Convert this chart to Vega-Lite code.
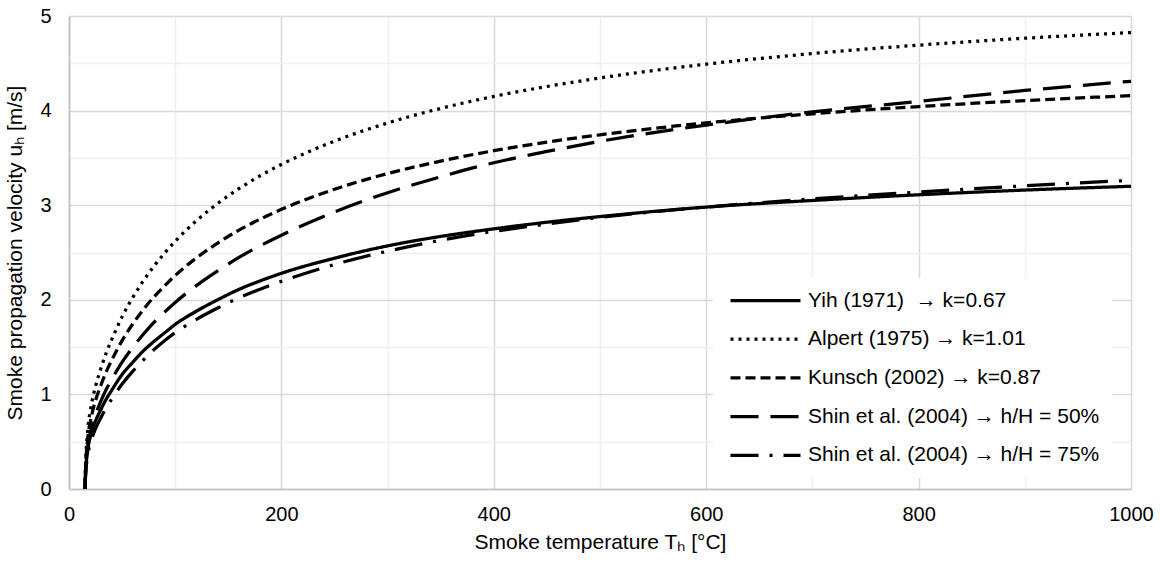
{
  "$schema": "https://vega.github.io/schema/vega-lite/v6.json",
  "width": 1062,
  "height": 473,
  "autosize": {"type": "none"},
  "padding": {"left": 69, "top": 16, "right": 29, "bottom": 73},
  "background": "white",
  "datasets": {
    "names": [
      {"key": "Yih", "label": "Yih (1971) \u00a0→ k=0.67"},
      {"key": "Alpert", "label": "Alpert (1975) → k=1.01"},
      {"key": "Kunsch", "label": "Kunsch (2002) → k=0.87"},
      {"key": "Shin50", "label": "Shin et al. (2004) → h/H = 50%"},
      {"key": "Shin75", "label": "Shin et al. (2004) → h/H = 75%"}
    ]
  },
  "data": {
    "values": [
      {"T": 15, "Yih": 0, "Alpert": 0, "Kunsch": 0, "Shin50": 0, "Shin75": 0},
      {"T": 16, "Yih": 0.25, "Alpert": 0.373, "Kunsch": 0.321, "Shin50": 0.265, "Shin75": 0.214},
      {"T": 17, "Yih": 0.35, "Alpert": 0.532, "Kunsch": 0.459, "Shin50": 0.378, "Shin75": 0.306},
      {"T": 18, "Yih": 0.44, "Alpert": 0.669, "Kunsch": 0.577, "Shin50": 0.478, "Shin75": 0.386},
      {"T": 20, "Yih": 0.55, "Alpert": 0.823, "Kunsch": 0.709, "Shin50": 0.591, "Shin75": 0.477},
      {"T": 22, "Yih": 0.63, "Alpert": 0.944, "Kunsch": 0.813, "Shin50": 0.681, "Shin75": 0.55},
      {"T": 25, "Yih": 0.72, "Alpert": 1.086, "Kunsch": 0.936, "Shin50": 0.788, "Shin75": 0.638},
      {"T": 30, "Yih": 0.84, "Alpert": 1.273, "Kunsch": 1.097, "Shin50": 0.928, "Shin75": 0.754},
      {"T": 35, "Yih": 0.95, "Alpert": 1.437, "Kunsch": 1.238, "Shin50": 1.051, "Shin75": 0.859},
      {"T": 40, "Yih": 1.04, "Alpert": 1.574, "Kunsch": 1.357, "Shin50": 1.154, "Shin75": 0.947},
      {"T": 50, "Yih": 1.21, "Alpert": 1.821, "Kunsch": 1.569, "Shin50": 1.341, "Shin75": 1.109},
      {"T": 60, "Yih": 1.34, "Alpert": 2.024, "Kunsch": 1.744, "Shin50": 1.498, "Shin75": 1.244},
      {"T": 70, "Yih": 1.46, "Alpert": 2.2, "Kunsch": 1.896, "Shin50": 1.636, "Shin75": 1.363},
      {"T": 80, "Yih": 1.56, "Alpert": 2.356, "Kunsch": 2.03, "Shin50": 1.761, "Shin75": 1.473},
      {"T": 90, "Yih": 1.65, "Alpert": 2.493, "Kunsch": 2.148, "Shin50": 1.87, "Shin75": 1.568},
      {"T": 100, "Yih": 1.74, "Alpert": 2.619, "Kunsch": 2.257, "Shin50": 1.972, "Shin75": 1.652},
      {"T": 120, "Yih": 1.88, "Alpert": 2.836, "Kunsch": 2.443, "Shin50": 2.15, "Shin75": 1.794},
      {"T": 140, "Yih": 2.0, "Alpert": 3.018, "Kunsch": 2.6, "Shin50": 2.305, "Shin75": 1.914},
      {"T": 160, "Yih": 2.11, "Alpert": 3.175, "Kunsch": 2.736, "Shin50": 2.448, "Shin75": 2.02},
      {"T": 180, "Yih": 2.2, "Alpert": 3.311, "Kunsch": 2.853, "Shin50": 2.571, "Shin75": 2.112},
      {"T": 200, "Yih": 2.28, "Alpert": 3.431, "Kunsch": 2.956, "Shin50": 2.683, "Shin75": 2.195},
      {"T": 250, "Yih": 2.44, "Alpert": 3.677, "Kunsch": 3.169, "Shin50": 2.929, "Shin75": 2.373},
      {"T": 300, "Yih": 2.57, "Alpert": 3.869, "Kunsch": 3.334, "Shin50": 3.132, "Shin75": 2.514},
      {"T": 350, "Yih": 2.67, "Alpert": 4.023, "Kunsch": 3.466, "Shin50": 3.3, "Shin75": 2.629},
      {"T": 400, "Yih": 2.75, "Alpert": 4.15, "Kunsch": 3.576, "Shin50": 3.449, "Shin75": 2.723},
      {"T": 450, "Yih": 2.82, "Alpert": 4.255, "Kunsch": 3.667, "Shin50": 3.568, "Shin75": 2.8},
      {"T": 500, "Yih": 2.88, "Alpert": 4.345, "Kunsch": 3.744, "Shin50": 3.675, "Shin75": 2.871},
      {"T": 600, "Yih": 2.98, "Alpert": 4.491, "Kunsch": 3.87, "Shin50": 3.847, "Shin75": 2.98},
      {"T": 700, "Yih": 3.05, "Alpert": 4.603, "Kunsch": 3.966, "Shin50": 3.986, "Shin75": 3.067},
      {"T": 800, "Yih": 3.11, "Alpert": 4.692, "Kunsch": 4.043, "Shin50": 4.097, "Shin75": 3.139},
      {"T": 900, "Yih": 3.16, "Alpert": 4.765, "Kunsch": 4.106, "Shin50": 4.213, "Shin75": 3.205},
      {"T": 1000, "Yih": 3.2, "Alpert": 4.825, "Kunsch": 4.158, "Shin50": 4.31, "Shin75": 3.263}
    ]
  },
  "transform": [
    {"fold": ["Yih", "Alpert", "Kunsch", "Shin50", "Shin75"], "as": ["key", "u"]},
    {"lookup": "key", "from": {"data": {"name": "names"}, "key": "key", "fields": ["label"]}}
  ],
  "mark": {"type": "line", "stroke": "#000000", "strokeWidth": 3.25, "interpolate": "monotone"},
  "encoding": {
    "x": {
      "field": "T",
      "type": "quantitative",
      "scale": {"domain": [0, 1000], "nice": false, "zero": false},
      "axis": {
        "title": "Smoke temperature Tₕ [°C]",
        "values": [0, 100, 200, 300, 400, 500, 600, 700, 800, 900, 1000],
        "labelExpr": "datum.value % 200 === 0 ? format(datum.value, 'd') : ''",
        "gridColor": {"condition": {"test": "datum.value % 200 === 0", "value": "#d9d9d9"}, "value": "#f0f0f0"},
        "labelPadding": 15,
        "titleX": 531,
        "titleY": 59,
        "titleBaseline": "alphabetic"
      }
    },
    "y": {
      "field": "u",
      "type": "quantitative",
      "scale": {"domain": [0, 5], "nice": false},
      "axis": {
        "title": "Smoke propagation velocity uₕ [m/s]",
        "values": [0, 0.5, 1, 1.5, 2, 2.5, 3, 3.5, 4, 4.5, 5],
        "labelExpr": "datum.value % 1 === 0 ? format(datum.value, 'd') : ''",
        "gridColor": {"condition": {"test": "datum.value % 1 === 0", "value": "#d9d9d9"}, "value": "#f0f0f0"},
        "labelPadding": 18,
        "titleX": -54,
        "titleY": 236.5,
        "titleBaseline": "middle"
      }
    },
    "strokeDash": {
      "field": "label",
      "type": "nominal",
      "scale": {
        "domain": ["Yih (1971) \u00a0→ k=0.67", "Alpert (1975) → k=1.01", "Kunsch (2002) → k=0.87", "Shin et al. (2004) → h/H = 50%", "Shin et al. (2004) → h/H = 75%"],
        "range": [[1, 0], [3, 5], [10, 5], [28, 12], [28, 11, 3, 11]]
      },
      "legend": {
        "title": null,
        "orient": "none",
        "legendX": 644,
        "legendY": 262,
        "padding": 12,
        "fillColor": "#ffffff",
        "symbolType": "M-1,0H13",
        "symbolSize": 100,
        "symbolStrokeWidth": 3.25,
        "symbolStrokeColor": "#000000",
        "symbolFillColor": "transparent",
        "labelOffset": 62,
        "labelLimit": 500,
        "labelFontSize": 21,
        "labelFont": "Liberation Sans",
        "labelColor": "#000000",
        "rowPadding": 16.7
      }
    }
  },
  "config": {
    "view": {"stroke": null},
    "axis": {
      "grid": true,
      "gridWidth": 1.6,
      "ticks": false,
      "tickSize": 0,
      "domainColor": "#bfbfbf",
      "domainWidth": 1.6,
      "labelFont": "Liberation Sans",
      "labelFontSize": 20,
      "labelColor": "#000000",
      "titleFont": "Liberation Sans",
      "titleFontSize": 21,
      "titleFontWeight": "normal",
      "titleColor": "#000000",
      "labelFlush": false,
      "labelOverlap": false
    }
  }
}
